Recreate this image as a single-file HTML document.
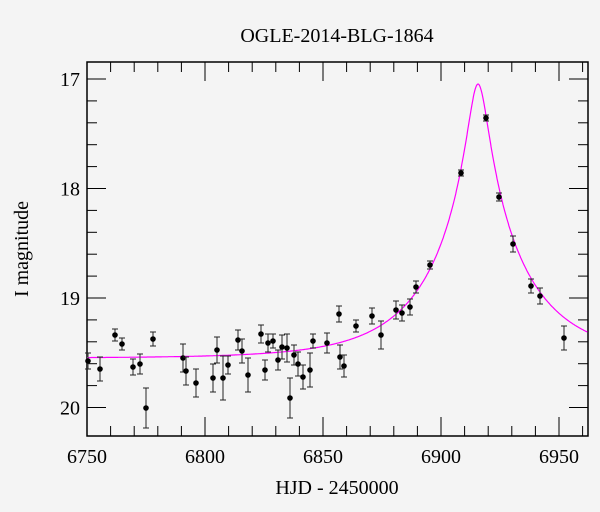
<!DOCTYPE html>
<html><head><style>body{margin:0;background:#f4f4f4}svg{display:block}text{font-family:"Liberation Serif",serif;fill:#000}</style></head>
<body><svg id="s" width="600" height="512" xmlns="http://www.w3.org/2000/svg">
<rect width="600" height="512" fill="#f4f4f4"/>
<g id="g"></g>
<text x="337" y="42" font-size="20" text-anchor="middle">OGLE-2014-BLG-1864</text>
<text x="337" y="494" font-size="20" text-anchor="middle">HJD - 2450000</text>
<text transform="translate(28,249) rotate(-90)" font-size="20" text-anchor="middle">I magnitude</text>
</svg>
<script>
var L=87,R=588,T=62,B=436;
function X(t){return L+(t-6750)*2.36}
function Y(m){return 79+(m-17)*109.5}
var h='';
h+='<rect x="'+L+'" y="'+T+'" width="'+(R-L)+'" height="'+(B-T)+'" fill="none" stroke="#000" stroke-width="1.5"/>';
for(var t=6750;t<=6960;t+=10){var x=X(t),l=(t%50==0)?19:10;
h+='<line x1="'+x+'" y1="'+B+'" x2="'+x+'" y2="'+(B-l)+'" stroke="#000"/><line x1="'+x+'" y1="'+T+'" x2="'+x+'" y2="'+(T+l)+'" stroke="#000"/>';
if(t%50==0)h+='<text x="'+x+'" y="'+(B+27)+'" font-size="20" text-anchor="middle">'+t+'</text>';}
for(var i=0;i<=16;i++){var m=16.8+i*0.2;var y=Y(m);if(y<T||y>B)continue;var maj=Math.abs(m-Math.round(m))<0.01,l=maj?19:10;
h+='<line x1="'+L+'" y1="'+y+'" x2="'+(L+l)+'" y2="'+y+'" stroke="#000"/><line x1="'+R+'" y1="'+y+'" x2="'+(R-l)+'" y2="'+y+'" stroke="#000"/>';
if(maj)h+='<text x="'+(L-7)+'" y="'+(y+7)+'" font-size="20" text-anchor="end">'+Math.round(m)+'</text>';}
var d='';
for(var t=6750;t<=6962;t+=0.25){var u0=0.1,tE=40,t0=6915.7;var u=Math.sqrt(u0*u0+Math.pow((t-t0)/tE,2));var A=(u*u+2)/(u*Math.sqrt(u*u+4));var m=19.55-2.5*Math.log10(A);d+=(d?'L':'M')+X(t).toFixed(1)+','+Y(m).toFixed(1);}
h+='<path d="'+d+'" fill="none" stroke="#ff00ff" stroke-width="1.2"/>';
var P=[[88,361,8],[100,369,12],[115,335,6],[122,344,6],[133,367,8],[140,364,10],[146,408,20],[153,339,7],[183,358,14],[186,371,14],[196,383,14],[213,378,14],[217,350,13],[223,378,22],[228,365,9],[238,340,10],[242,351,12],[248,375,17],[261,334,9],[265,370,10],[268,343,9],[273,341,7],[278,360,10],[282,347,12],[287,348,14],[290,398,20],[294,355,10],[298,364,12],[303,377,12],[310,370,17],[313,341,7],[327,343,10],[339,314,8],[340,357,12],[344,366,11],[356,326,6],[372,316,8],[381,335,14],[396,310,9],[402,313,8],[410,307,8],[416,287,6],[430,265,4],[461,173,3],[486,118,3],[499,197,4],[513,244,8],[531,286,7],[540,296,8],[564,338,12]];
P.forEach(function(p){var x=p[0],y=p[1],e=p[2];
h+='<line x1="'+x+'" y1="'+(y-e)+'" x2="'+x+'" y2="'+(y+e)+'" stroke="#555" stroke-width="1.3"/><line x1="'+(x-3)+'" y1="'+(y-e)+'" x2="'+(x+3)+'" y2="'+(y-e)+'" stroke="#222"/><line x1="'+(x-3)+'" y1="'+(y+e)+'" x2="'+(x+3)+'" y2="'+(y+e)+'" stroke="#222"/><circle cx="'+x+'" cy="'+y+'" r="2.8" fill="#000"/>';});
document.getElementById('g').innerHTML=h;
</script>
</body></html>
